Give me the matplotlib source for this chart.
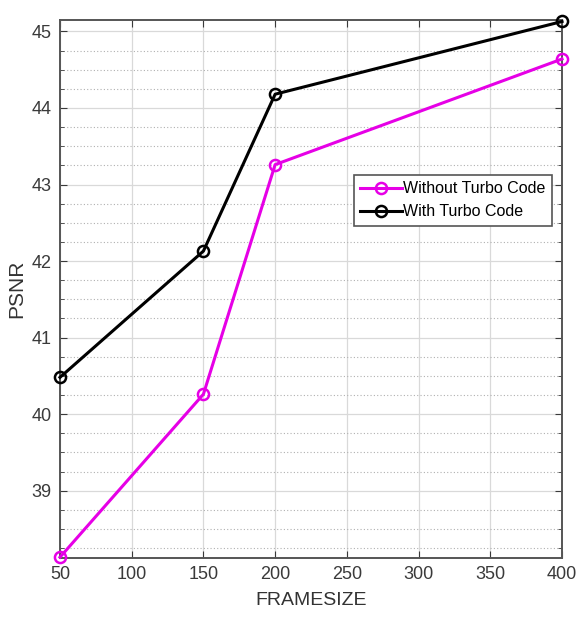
import matplotlib.pyplot as plt
from matplotlib.ticker import MultipleLocator

# dados
framesize = [50, 150, 200, 400]
psnr_without = [38.13, 40.26, 43.26, 44.64]
psnr_with = [40.48, 42.13, 44.18, 45.13]
x_ticks = [50, 100, 150, 200, 250, 300, 350, 400]
y_ticks = [39, 40, 41, 42, 43, 44, 45]

plt.rcParams['font.family'] = ['Liberation Sans', 'DejaVu Sans']

fig = plt.figure(figsize=(5.8, 6.24), dpi=100)
ax = fig.add_axes([0.1034, 0.1058, 0.8656, 0.8622])

ax.plot(framesize, psnr_without, color='#e600e6', lw=2.2, marker='o', ms=8,
        mfc='none', mew=1.8, label='Without Turbo Code', clip_on=False, zorder=3)
ax.plot(framesize, psnr_with, color='black', lw=2.2, marker='o', ms=8,
        mfc='none', mew=1.8, label='With Turbo Code', clip_on=False, zorder=3)

ax.set_xlim(50, 400)
ax.set_ylim(38.12, 45.15)
ax.set_xticks(x_ticks)
ax.set_yticks(y_ticks)
ax.yaxis.set_minor_locator(MultipleLocator(0.25))

# grelha estilo matlab
ax.grid(True, which='major', color='#d9d9d9', lw=0.9, ls='-')
ax.grid(True, which='minor', axis='y', color='#b0b0b0', lw=0.8, ls=(0, (1, 2)))
ax.set_axisbelow(True)

ax.tick_params(which='both', direction='in', top=True, right=True,
               labelsize=13, colors='#3a3a3a', pad=6)
ax.tick_params(which='major', length=5)
ax.tick_params(which='minor', length=3)
for s in ax.spines.values():
    s.set_color('#555555')
    s.set_linewidth(1.4)

ax.set_xlabel('FRAMESIZE', fontsize=14, color='#333333', labelpad=6)
ax.set_ylabel('PSNR', fontsize=15, color='#333333', labelpad=4)

leg = ax.legend(loc='upper right', bbox_to_anchor=(0.98, 0.712), fontsize=11.5,
                fancybox=False, edgecolor='#555555', framealpha=1, borderaxespad=0,
                handlelength=2.6, borderpad=0.4, labelspacing=0.5, handletextpad=0.1)
leg.get_frame().set_linewidth(1.2)

fig.savefig('out.png', dpi=100)
